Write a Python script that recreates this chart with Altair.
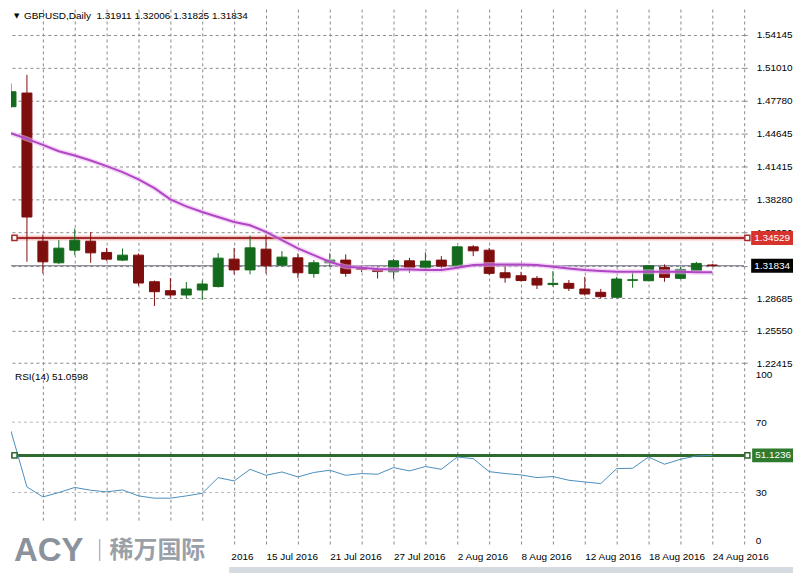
import json
import altair as alt
import pandas as pd

FONT = "Liberation Sans"

# ---------------- data ----------------
dates = ["2016-06-23", "2016-06-24", "2016-06-27", "2016-06-28", "2016-06-29", "2016-06-30",
         "2016-07-01", "2016-07-04", "2016-07-05", "2016-07-06", "2016-07-07", "2016-07-08",
         "2016-07-11", "2016-07-12", "2016-07-13", "2016-07-14", "2016-07-15", "2016-07-18",
         "2016-07-19", "2016-07-20", "2016-07-21", "2016-07-22", "2016-07-25", "2016-07-26",
         "2016-07-27", "2016-07-28", "2016-07-29", "2016-08-01", "2016-08-02", "2016-08-03",
         "2016-08-04", "2016-08-05", "2016-08-08", "2016-08-09", "2016-08-10", "2016-08-11",
         "2016-08-12", "2016-08-15", "2016-08-16", "2016-08-17", "2016-08-18", "2016-08-19",
         "2016-08-22", "2016-08-23", "2016-08-24"]

opens = [1.47211, 1.48531, 1.34211, 1.32121, 1.33344, 1.34211, 1.33123, 1.32381, 1.32862, 1.30291,
         1.29425, 1.29010, 1.29492, 1.29829, 1.32477, 1.31437, 1.33440, 1.31899, 1.32602, 1.31081,
         1.32121, 1.32381, 1.31582, 1.31485, 1.31254, 1.32314, 1.31639, 1.32381, 1.31803, 1.33662,
         1.33344, 1.31158, 1.30869, 1.30619, 1.30022, 1.30137, 1.29588, 1.29271, 1.28789, 1.30426,
         1.30388, 1.31678, 1.30619, 1.31351, 1.31911]
highs = [1.49455, 1.50293, 1.34856, 1.34307, 1.35434, 1.35106, 1.33565, 1.33508, 1.33026, 1.30407,
         1.30648, 1.30262, 1.30407, 1.33055, 1.33565, 1.34740, 1.34866, 1.33248, 1.33026, 1.32381,
         1.33055, 1.32940, 1.31851, 1.31755, 1.32497, 1.32602, 1.33123, 1.32766, 1.33758, 1.33825,
         1.33565, 1.31832, 1.31254, 1.30840, 1.31322, 1.30455, 1.30773, 1.29588, 1.30773, 1.31254,
         1.31899, 1.31967, 1.31736, 1.32217, 1.32006]
lows = [1.47115, 1.32217, 1.31100, 1.31996, 1.32862, 1.32121, 1.32314, 1.32285, 1.29906, 1.27951,
        1.28770, 1.28722, 1.28529, 1.29733, 1.31014, 1.31014, 1.31081, 1.31755, 1.30648, 1.30676,
        1.31736, 1.30773, 1.31225, 1.30599, 1.30580, 1.31158, 1.31418, 1.31582, 1.31736, 1.32766,
        1.30936, 1.30195, 1.30311, 1.29588, 1.29810, 1.29396, 1.28943, 1.28693, 1.28750, 1.29713,
        1.30359, 1.30291, 1.30522, 1.31322, 1.31825]
closes = [1.48656, 1.36551, 1.32217, 1.33537, 1.34307, 1.33084, 1.32477, 1.32862, 1.30166, 1.29328,
          1.29010, 1.29588, 1.30070, 1.32574, 1.31437, 1.33565, 1.31832, 1.32670, 1.31158, 1.32121,
          1.32381, 1.31100, 1.31485, 1.31274, 1.32314, 1.31639, 1.32285, 1.31803, 1.33662, 1.33277,
          1.31100, 1.30676, 1.30407, 1.29973, 1.30137, 1.29656, 1.29107, 1.28847, 1.30551, 1.30484,
          1.31832, 1.30715, 1.31485, 1.32063, 1.31834]
moving_avg = [1.44640, 1.44101, 1.43523, 1.42907, 1.42493, 1.42011, 1.41462, 1.40885, 1.40181, 1.39344,
              1.38255, 1.37581, 1.37032, 1.36551, 1.36069, 1.35752, 1.35106, 1.34307, 1.33508, 1.32863,
              1.32217, 1.31736, 1.31640, 1.31514, 1.31486, 1.31486, 1.31418, 1.31418, 1.31640, 1.31900,
              1.31967, 1.31967, 1.31967, 1.31900, 1.31736, 1.31582, 1.31418, 1.31322, 1.31255, 1.31255,
              1.31255, 1.31255, 1.31255, 1.31197, 1.31197]
rsi_values = [64.9, 33.2, 27.5, 30.0, 32.9, 31.3, 30.4, 31.5, 28.1, 26.8,
              26.8, 28.1, 29.6, 38.5, 36.6, 43.2, 39.8, 41.7, 38.9, 41.4,
              42.7, 39.8, 40.8, 40.4, 44.2, 42.3, 44.8, 43.2, 50.2, 49.3,
              41.9, 40.8, 40.0, 38.5, 39.1, 37.0, 36.0, 35.1, 43.6, 43.8,
              50.2, 46.1, 48.9, 50.8, 51.0598]

price_ticks = [1.54145, 1.51010, 1.47780, 1.44645, 1.41415, 1.38280, 1.35050, 1.31820,
               1.28685, 1.25550, 1.22415]
hidden_price_tick = 1.31820   # grid line whose label sits under the last-price box
rsi_ticks = [100, 70, 30, 0]
rsi_grid_levels = [70, 30]
resistance_level = 1.34529
rsi_level = 51.1236
symbol_text = "GBPUSD,Daily"
rsi_name = "RSI(14)"
logo_latin = "ACY"
logo_cjk = "稀万国际"
first_visible_date_index = 12   # earlier date labels are covered by the logo
anchor_positions = [0.22, 46.2]  # bar-index positions of the line-object handles

# ---------------- derived tables ----------------
MONTHS = ["Jan", "Feb", "Mar", "Apr", "May", "Jun", "Jul", "Aug", "Sep", "Oct", "Nov", "Dec"]


def fmt_date(s):
    y, m, d = s.split("-")
    return f"{int(d)} {MONTHS[int(m) - 1]} {y}"


n = len(dates)
df = pd.DataFrame({
    "i": list(range(n)), "open": opens, "high": highs, "low": lows, "close": closes,
    "ma": moving_avg, "rsi": rsi_values,
})
df["dir"] = ["up" if c >= o else "down" for o, c in zip(opens, closes)]

date_labels = [fmt_date(d) if k >= first_visible_date_index else "" for k, d in enumerate(dates)] + ["", ""]
label_expr = "datum.value % 4 == 0 ? " + json.dumps(date_labels) + "[datum.value] : ''"
price_label_expr = (f"abs(datum.value - {hidden_price_tick}) < 0.000001 ? '' : "
                    "format(datum.value, '.5f')")

GREEN = "#146a1c"
RED = "#7e0e0e"
GRID = "#8a8a8a"

title_str = f"{symbol_text}\u00a0 {opens[-1]:.5f} {highs[-1]:.5f} {lows[-1]:.5f} {closes[-1]:.5f}"
rsi_str = f"{rsi_name} {rsi_values[-1]:.4f}"

# ---------------- scales / axes ----------------
xs = alt.Scale(domain=[0, 46], nice=False, zero=False, padding=0)
ys_main = alt.Scale(domain=[1.21981, 1.56649], nice=False, zero=False, padding=0)
ys_rsi = alt.Scale(domain=[-0.96, 100.96], nice=False, zero=False, padding=0)
grid_x = list(range(2, 47, 2))

ax_x_main = alt.Axis(values=grid_x, grid=True, gridDash=[3, 3], gridColor=GRID, gridOpacity=1,
                     labels=False, ticks=False, domain=False, title=None)
ax_x_rsi = alt.Axis(values=grid_x, grid=True, gridDash=[3, 3], gridColor=GRID, gridOpacity=1,
                    labelExpr=label_expr, labelAlign="left", labelBaseline="top", labelPadding=5,
                    labelFont=FONT, labelFontSize=10, labelColor="#000000", labelOverlap=False,
                    labelFlush=False, ticks=False, domain=False, title=None)
ax_y_main = alt.Axis(orient="right", values=price_ticks, labelExpr=price_label_expr, grid=True,
                     gridDash=[3, 3], gridColor=GRID, gridOpacity=1, tickSize=5, tickDash=[3, 3],
                     tickColor=GRID, labelPadding=7, labelFont=FONT, labelFontSize=10,
                     labelColor="#000000", labelFlush=False, labelOverlap=False, domain=False,
                     title=None)
ax_y_rsi = alt.Axis(orient="right", values=rsi_ticks, grid=False, ticks=False, labelPadding=11,
                    labelFont=FONT, labelFontSize=10, labelColor="#000000", labelFlush=5,
                    labelOverlap=False, domain=False, title=None)


def XM(field="i"):
    return alt.X(f"{field}:Q", scale=xs, axis=ax_x_main)


def XR(field="i"):
    return alt.X(f"{field}:Q", scale=xs, axis=ax_x_rsi)


def YM(field):
    return alt.Y(f"{field}:Q", scale=ys_main, axis=ax_y_main)


def YR(field):
    return alt.Y(f"{field}:Q", scale=ys_rsi, axis=ax_y_rsi)


col = alt.Color("dir:N", scale=alt.Scale(domain=["up", "down"], range=[GREEN, RED]), legend=None)
strk = alt.Stroke("dir:N", scale=alt.Scale(domain=["up", "down"], range=[GREEN, RED]), legend=None)

# ---------------- main panel ----------------
base = alt.Chart(df)
res_df = pd.DataFrame({"v": [resistance_level], "label": [f"{resistance_level:.5f}"]})
last_df = pd.DataFrame({"v": [closes[-1]], "label": [f"{closes[-1]:.5f}"]})
res_anchor_df = pd.DataFrame({"x": anchor_positions, "v": [resistance_level] * 2})

res_glow = alt.Chart(res_df).mark_rule(color="#f3c6c6", strokeWidth=5, clip=True).encode(y=YM("v"))
res_line = alt.Chart(res_df).mark_rule(color="#a52c2c", strokeWidth=2, clip=True).encode(y=YM("v"))
last_line = alt.Chart(last_df).mark_rule(color="#65657c", strokeWidth=1, clip=True).encode(y=YM("v"))

wicks = base.mark_rule(strokeWidth=1, clip=True).encode(
    x=XM(), y=YM("low"), y2=alt.Y2("high"), color=col)
bodies = base.mark_bar(size=10, strokeWidth=1, clip=True).encode(
    x=XM(), y=YM("open"), y2=alt.Y2("close"), color=col, stroke=strk)

ma_glow = base.mark_line(color="#ecb8f2", strokeWidth=5, opacity=0.55, clip=True).encode(
    x=XM(), y=YM("ma"))
ma_line = base.mark_line(color="#b046c4", strokeWidth=2, clip=True).encode(x=XM(), y=YM("ma"))

res_anchor = alt.Chart(res_anchor_df).mark_point(
    shape="square", size=26, filled=True, fill="white", stroke="#a52c2c", strokeWidth=1.5, opacity=1
).encode(x=XM("x"), y=YM("v"))

res_box = alt.Chart(res_df).mark_rect(color="#d6332c", yOffset=-7, y2Offset=7).encode(
    x=alt.value(743), x2=alt.value(785), y=YM("v"), y2=alt.Y2("v"))
res_text = alt.Chart(res_df).mark_text(align="left", baseline="middle", color="white",
                                       font=FONT, fontSize=10).encode(
    x=alt.value(746), y=YM("v"), text="label:N")
last_box = alt.Chart(last_df).mark_rect(color="#000000", yOffset=-7, y2Offset=7).encode(
    x=alt.value(743), x2=alt.value(785), y=YM("v"), y2=alt.Y2("v"))
last_text = alt.Chart(last_df).mark_text(align="left", baseline="middle", color="white",
                                         font=FONT, fontSize=10).encode(
    x=alt.value(746), y=YM("v"), text="label:N")

title_df = pd.DataFrame({"t": [title_str], "tri": ["\u25bc"]})
title_text = alt.Chart(title_df).mark_text(align="left", baseline="middle", color="#000000",
                                           font=FONT, fontSize=10).encode(
    x=alt.value(13), y=alt.value(7), text="t:N")
title_tri = alt.Chart(title_df).mark_text(align="left", baseline="middle", color="#000000",
                                          font="DejaVu Sans", fontSize=7).encode(
    x=alt.value(3), y=alt.value(7), text="tri:N")

main = alt.layer(
    res_glow, res_line, last_line, wicks, bodies, ma_glow, ma_line,
    res_anchor, res_box, res_text, last_box, last_text, title_text, title_tri
).properties(width=736, height=360)

# ---------------- RSI panel ----------------
rsi_grid_df = pd.DataFrame({"v": rsi_grid_levels})
rsi_lvl_df = pd.DataFrame({"v": [rsi_level], "label": [f"{rsi_level:.4f}"]})
rsi_anchor_df = pd.DataFrame({"x": anchor_positions, "v": [rsi_level] * 2})

rsi_grid = alt.Chart(rsi_grid_df).mark_rule(color="#b8b8b8", strokeDash=[3, 3], strokeWidth=1,
                                            clip=True).encode(y=YR("v"))
rsi_lvl_line = alt.Chart(rsi_lvl_df).mark_rule(color="#2d6a2d", strokeWidth=3, clip=True).encode(
    y=YR("v"))
rsi_line = base.mark_line(color="#4a8fbd", strokeWidth=1, clip=True).encode(x=XR(), y=YR("rsi"))
rsi_anchor = alt.Chart(rsi_anchor_df).mark_point(
    shape="square", size=26, filled=True, fill="white", stroke="#2d6a2d", strokeWidth=1.5, opacity=1
).encode(x=XR("x"), y=YR("v"))
rsi_box = alt.Chart(rsi_lvl_df).mark_rect(color="#2e7a2e", yOffset=-7, y2Offset=7).encode(
    x=alt.value(744), x2=alt.value(785), y=YR("v"), y2=alt.Y2("v"))
rsi_box_text = alt.Chart(rsi_lvl_df).mark_text(align="left", baseline="middle", color="white",
                                               font=FONT, fontSize=10).encode(
    x=alt.value(747), y=YR("v"), text="label:N")

rsi_title_df = pd.DataFrame({"t": [rsi_str]})
rsi_title = alt.Chart(rsi_title_df).mark_text(align="left", baseline="middle", color="#000000",
                                              font=FONT, fontSize=10).encode(
    x=alt.value(4), y=alt.value(9), text="t:N")

logo_df = pd.DataFrame({"latin": [logo_latin], "cjk": [logo_cjk]})
logo_bg = alt.Chart(logo_df).mark_rect(color="white").encode(
    x=alt.value(0), x2=alt.value(219), y=alt.value(155), y2=alt.value(206))
bottom_strip = alt.Chart(logo_df).mark_rect(color="#d6dae1").encode(
    x=alt.value(219), x2=alt.value(785), y=alt.value(200), y2=alt.value(206))
logo_a = alt.Chart(logo_df).mark_text(align="left", baseline="alphabetic", color="#8b929c",
                                      font=FONT, fontSize=33, fontWeight="bold").encode(
    x=alt.value(3), y=alt.value(194), text="latin:N")
logo_bar = alt.Chart(logo_df).mark_rule(color="#b3b8bf", strokeWidth=1.5).encode(
    x=alt.value(89), y=alt.value(172), y2=alt.value(194))
logo_c = alt.Chart(logo_df).mark_text(align="left", baseline="alphabetic", color="#9aa0a8",
                                      font="Noto Sans CJK SC", fontSize=24, fontWeight="bold").encode(
    x=alt.value(99), y=alt.value(191), text="cjk:N")

rsi_panel = alt.layer(
    rsi_grid, rsi_lvl_line, rsi_line, rsi_anchor, rsi_box, rsi_box_text, rsi_title,
    logo_bg, bottom_strip, logo_a, logo_bar, logo_c
).properties(width=736, height=180)

chart = alt.vconcat(main, rsi_panel, spacing=0, bounds="flush").properties(
    padding=0, background="white"
).configure_view(strokeWidth=0)

chart.save("out.html", embed_options={"renderer": "svg", "actions": False})
